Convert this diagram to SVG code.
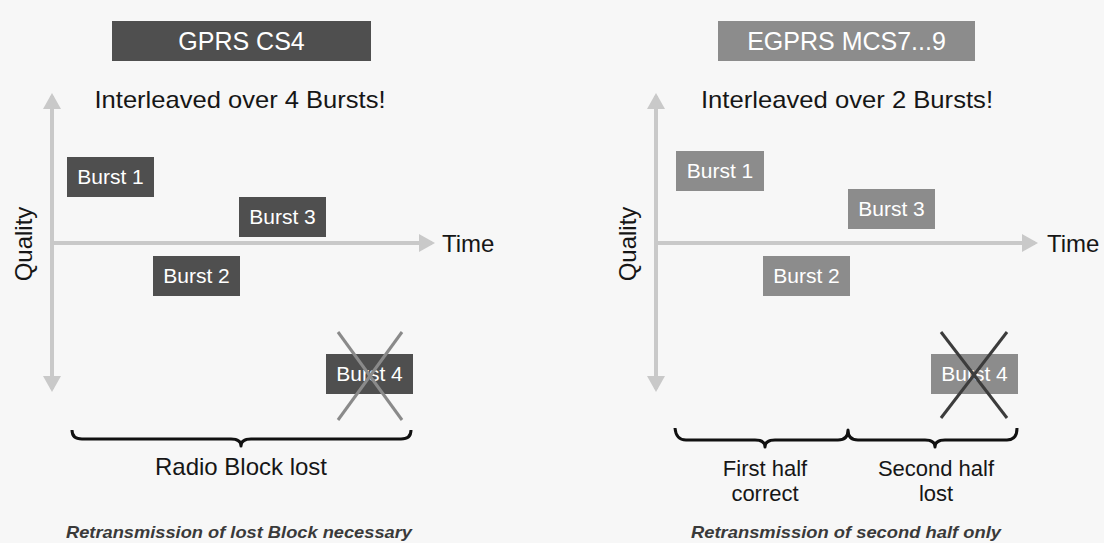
<svg xmlns="http://www.w3.org/2000/svg" width="1104" height="543" viewBox="0 0 1104 543">
<style>
text{font-family:"Liberation Sans",Arial,sans-serif;}
.bg{fill:#f7f7f7;}
.dk{fill:#4f4f4f;}
.lt{fill:#8c8c8c;}
.ttl{font-size:25px;fill:#ffffff;text-anchor:middle;}
.bt{font-size:21px;fill:#ffffff;text-anchor:middle;}
.lbl{font-size:24px;fill:#161616;text-anchor:middle;}
.lbs{font-size:22px;fill:#161616;text-anchor:middle;}
.it{font-size:17px;font-style:italic;font-weight:bold;fill:#3a3a3a;text-anchor:middle;}
.ax{stroke:#c9c9c9;stroke-width:4;fill:none;}
.br{stroke:#111111;stroke-width:3;fill:none;stroke-linejoin:round;}
.xl{stroke:#8a8a8a;stroke-width:3;}
.xd{stroke:#3c3c3c;stroke-width:3;}
</style>
<defs>
<marker id="ah" viewBox="0 0 16 18" refX="13" refY="9" markerWidth="16" markerHeight="18" markerUnits="userSpaceOnUse" orient="auto-start-reverse">
<path d="M0,0 L16,9 L0,18 Z" fill="#c9c9c9"/>
</marker>
</defs>
<rect class="bg" x="0" y="0" width="1104" height="543"/>

<g id="connectors">
<line class="ax" x1="52" y1="96" x2="52" y2="389" marker-start="url(#ah)" marker-end="url(#ah)"/>
<line class="ax" x1="52" y1="243" x2="432" y2="243" marker-end="url(#ah)"/>
<line class="ax" x1="656" y1="96" x2="656" y2="389" marker-start="url(#ah)" marker-end="url(#ah)"/>
<line class="ax" x1="656" y1="243" x2="1035" y2="243" marker-end="url(#ah)"/>
<path class="br" d="M72,430 Q72,439 82,439 L231,439 Q241,439 241,446 Q241,439 251,439 L401,439 Q411,439 411,430"/>
<path class="br" d="M675,428 Q676,440 686,440 L755,440 Q765,440 765,447 Q765,440 775,440 L838,440 Q848,440 848,430 Q848,440 858,440 L925,440 Q935,440 935,447 Q935,440 945,440 L1007,440 Q1017,440 1017,428"/>
</g>

<g id="left-title">
<rect class="dk" x="112" y="21" width="259" height="40"/>
<text class="ttl" x="241.5" y="50">GPRS CS4</text>
</g>
<g id="left-subtitle"><text class="lbl" x="240" y="108" textLength="291" lengthAdjust="spacingAndGlyphs">Interleaved over 4 Bursts!</text></g>
<g id="left-time"><text class="lbl" x="442" y="252" style="text-anchor:start">Time</text></g>
<g id="left-quality"><text class="lbl" transform="translate(32,244) rotate(-90)">Quality</text></g>
<g id="left-burst1"><rect class="dk" x="67" y="157" width="87" height="40"/><text class="bt" x="110.5" y="184">Burst 1</text></g>
<g id="left-burst3"><rect class="dk" x="239" y="197" width="87" height="40"/><text class="bt" x="282.5" y="224">Burst 3</text></g>
<g id="left-burst2"><rect class="dk" x="153" y="256" width="87" height="40"/><text class="bt" x="196.5" y="283">Burst 2</text></g>
<g id="left-burst4"><rect class="dk" x="326" y="354" width="87" height="40"/><text class="bt" x="369.5" y="381">Burst 4</text>
<line class="xl" x1="338" y1="332" x2="402" y2="420"/><line class="xl" x1="402" y1="332" x2="338" y2="420"/></g>
<g id="left-brace-label"><text class="lbl" x="241" y="475">Radio Block lost</text></g>
<g id="left-note"><text class="it" x="239" y="538" textLength="346" lengthAdjust="spacingAndGlyphs">Retransmission of lost Block necessary</text></g>

<g id="right-title">
<rect class="lt" x="718" y="21" width="257" height="40"/>
<text class="ttl" x="846.5" y="50">EGPRS MCS7...9</text>
</g>
<g id="right-subtitle"><text class="lbl" x="847" y="108" textLength="292" lengthAdjust="spacingAndGlyphs">Interleaved over 2 Bursts!</text></g>
<g id="right-time"><text class="lbl" x="1047" y="252" style="text-anchor:start">Time</text></g>
<g id="right-quality"><text class="lbl" transform="translate(636,244) rotate(-90)">Quality</text></g>
<g id="right-burst1"><rect class="lt" x="676" y="151" width="88" height="40"/><text class="bt" x="720" y="178">Burst 1</text></g>
<g id="right-burst3"><rect class="lt" x="848" y="189" width="87" height="40"/><text class="bt" x="891.5" y="216">Burst 3</text></g>
<g id="right-burst2"><rect class="lt" x="763" y="256" width="87" height="40"/><text class="bt" x="806.5" y="283">Burst 2</text></g>
<g id="right-burst4"><rect class="lt" x="931" y="354" width="87" height="40"/><text class="bt" x="974.5" y="381">Burst 4</text>
<line class="xd" x1="941" y1="332" x2="1007" y2="418"/><line class="xd" x1="1007" y1="332" x2="941" y2="418"/></g>
<g id="right-brace-label1"><text class="lbs" x="765" y="476">First half</text><text class="lbs" x="765" y="501">correct</text></g>
<g id="right-brace-label2"><text class="lbs" x="936" y="476">Second half</text><text class="lbs" x="936" y="501">lost</text></g>
<g id="right-note"><text class="it" x="846" y="538" textLength="310" lengthAdjust="spacingAndGlyphs">Retransmission of second half only</text></g>
</svg>
